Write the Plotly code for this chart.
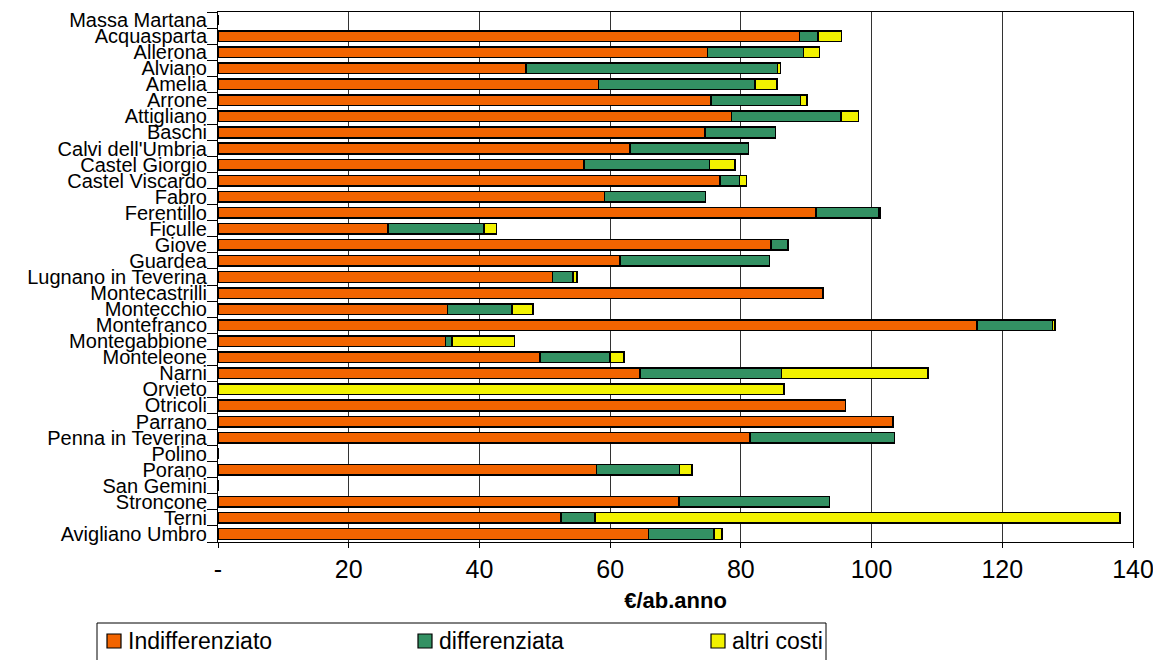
import plotly.graph_objects as go

# Municipalities (top to bottom)
comuni = [
    "Massa Martana", "Acquasparta", "Allerona", "Alviano", "Amelia", "Arrone",
    "Attigliano", "Baschi", "Calvi dell'Umbria", "Castel Giorgio", "Castel Viscardo",
    "Fabro", "Ferentillo", "Ficulle", "Giove", "Guardea", "Lugnano in Teverina",
    "Montecastrilli", "Montecchio", "Montefranco", "Montegabbione", "Monteleone",
    "Narni", "Orvieto", "Otricoli", "Parrano", "Penna in Teverina", "Polino",
    "Porano", "San Gemini", "Stroncone", "Terni", "Avigliano Umbro",
]

# Cost components, €/ab.anno
indifferenziato = [
    0, 89.0, 74.9, 47.1, 58.2, 75.4, 78.6, 74.5, 63.0, 56.0, 76.8,
    59.1, 91.5, 26.0, 84.6, 61.5, 51.2, 92.6, 35.1, 116.1, 34.8, 49.3,
    64.6, 0, 96.0, 103.3, 81.4, 0, 57.9, 0, 70.5, 52.5, 65.9,
]
differenziata = [
    0, 2.8, 14.7, 38.5, 24.0, 13.7, 16.7, 10.8, 18.2, 19.2, 3.0,
    15.5, 9.6, 14.7, 2.6, 22.9, 3.1, 0, 9.9, 11.6, 1.0, 10.7,
    21.6, 0, 0, 0, 22.1, 0, 12.7, 0, 23.1, 5.2, 10.0,
]
altri_costi = [
    0, 3.6, 2.4, 0.5, 3.3, 1.0, 2.7, 0, 0, 3.9, 1.1,
    0, 0.3, 1.9, 0, 0, 0.6, 0, 3.2, 0.4, 9.6, 2.1,
    22.4, 86.6, 0, 0, 0, 0, 1.9, 0, 0, 80.3, 1.2,
]

x_ticks = [0, 20, 40, 60, 80, 100, 120, 140]
x_ticktext = ["-", "20", "40", "60", "80", "100", "120", "140"]

series = [
    ("Indifferenziato", indifferenziato, "#F26400"),
    ("differenziata", differenziata, "#339163"),
    ("altri costi", altri_costi, "#F2F200"),
]

fig = go.Figure()
for name, vals, color in series:
    fig.add_trace(go.Bar(
        y=comuni, x=vals, name=name, orientation="h",
        marker=dict(color=color, line=dict(color="black", width=1.5)),
    ))

W, H = 1153, 660
L, R, T, B = 218, 20, 12, 118
PW, PH = W - L - R, H - T - B


def px_x(px):
    """Pixel column -> paper x."""
    return (px - L) / PW


def px_y(py):
    """Pixel row -> paper y."""
    return (H - B - py) / PH


# Legend drawn as a framed row of swatches and labels below the axis title
shapes = [dict(type="rect", xref="paper", yref="paper",
               x0=px_x(97), x1=px_x(826), y0=px_y(666), y1=px_y(623),
               line=dict(color="black", width=1), fillcolor="white", layer="above")]
annotations = []
legend_x = [107, 418, 711]
for (name, _, color), lx in zip(series, legend_x):
    shapes.append(dict(type="rect", xref="paper", yref="paper",
                       x0=px_x(lx), x1=px_x(lx + 14), y0=px_y(648), y1=px_y(634),
                       line=dict(color="black", width=1.2), fillcolor=color, layer="above"))
    annotations.append(dict(text=name, xref="paper", yref="paper",
                            x=px_x(lx + 19), y=px_y(641), xanchor="left", yanchor="middle",
                            showarrow=False, font=dict(size=23, color="black")))

fig.update_layout(
    width=W, height=H,
    barmode="stack", bargap=0.34,
    paper_bgcolor="white", plot_bgcolor="white",
    margin=dict(l=L, r=R, t=T, b=B, pad=0, autoexpand=False),
    font=dict(family="Liberation Sans, Arial, sans-serif", color="black"),
    showlegend=False,
    shapes=shapes, annotations=annotations,
)

fig.update_xaxes(
    range=[0, 140], tickvals=x_ticks, ticktext=x_ticktext,
    showgrid=True, gridcolor="#333333", gridwidth=1,
    showline=True, linecolor="black", linewidth=1, mirror=True,
    ticks="outside", ticklen=5, tickcolor="black",
    tickfont=dict(size=25), ticklabeloverflow="allow", automargin=False,
    title=dict(text="<b>€/ab.anno</b>", font=dict(size=22), standoff=10),
    zeroline=False,
)
fig.update_yaxes(
    autorange="reversed", categoryorder="array", categoryarray=comuni,
    tickmode="array", tickvals=comuni, ticktext=comuni,
    showline=True, linecolor="black", linewidth=1, mirror=True,
    ticks="outside", ticklen=10, tickcolor="black", tickson="boundaries",
    ticklabelstandoff=6,
    tickfont=dict(size=20), showgrid=False, automargin=False,
)

fig.write_html("out.html")
